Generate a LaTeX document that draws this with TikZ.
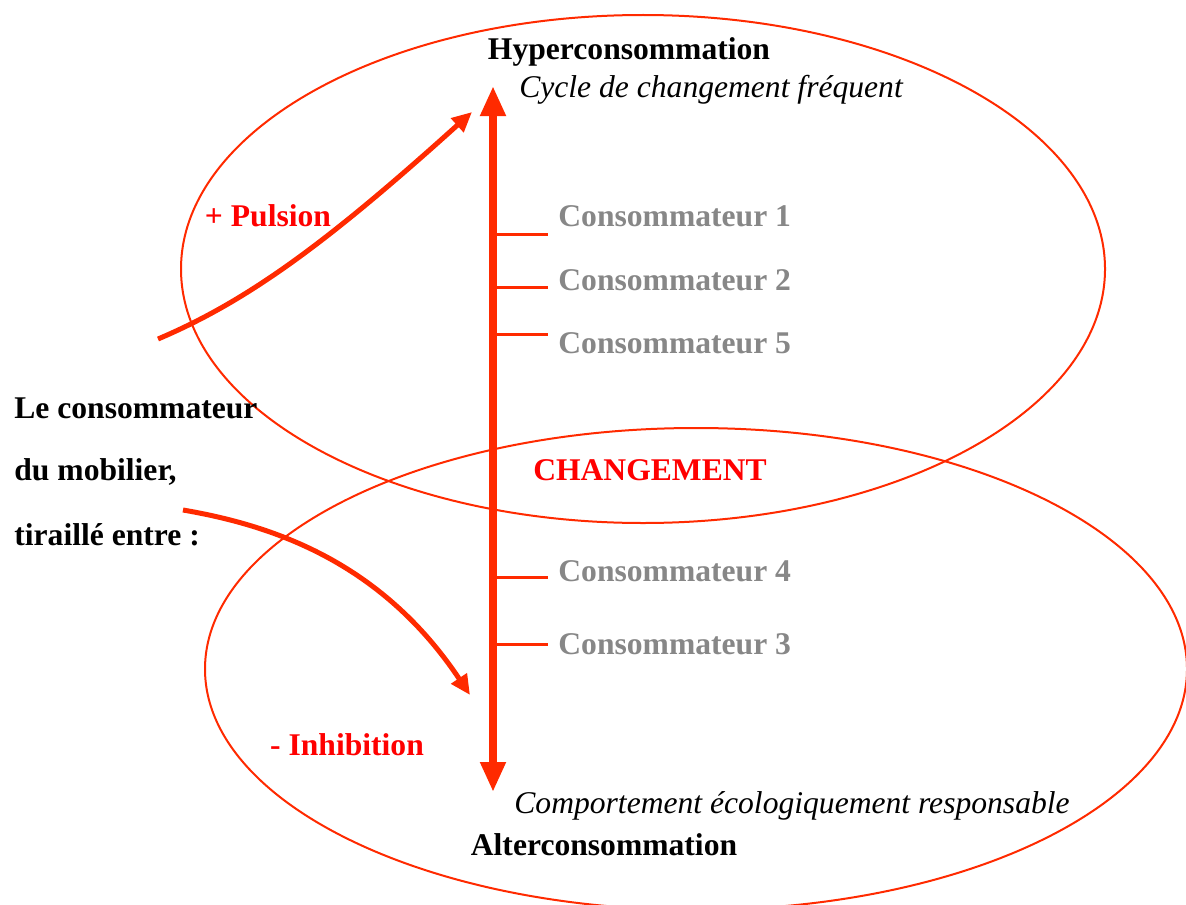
\documentclass[tikz,border=0pt]{standalone}
\usepackage{fontspec}
\setmainfont{Liberation Serif}
\usepackage{tikz}
\usetikzlibrary{arrows.meta}
\definecolor{arrowred}{HTML}{FF2A00}
\definecolor{labelred}{HTML}{FF0000}
\definecolor{consgray}{HTML}{878787}
\tikzset{
every picture/.style={line join=round},
zone line/.style={draw=arrowred, line width=1pt},
axis arrow/.style={
  draw=arrowred,
  line width=4pt,
  {Triangle[length=15pt,width=12pt]}-{Triangle[length=15pt,width=12pt]}
},
force arrow/.style={
  draw=arrowred,
  line width=2.5pt,
  -{Triangle[length=10pt,width=9pt]}
},
tick line/.style={draw=arrowred, line width=1.5pt},
big text/.style={font=\fontsize{15.8pt}{19pt}\selectfont\bfseries, inner sep=0pt},
pole label/.style={big text, text=black},
pole sub/.style={font=\fontsize{15.8pt}{19pt}\selectfont\itshape, inner sep=0pt},
force label/.style={big text, text=labelred},
cons label/.style={big text, text=consgray, anchor=west},
left label/.style={big text, text=black, anchor=west}
}
\begin{document}
\begin{tikzpicture}[x=0.5pt,y=0.5pt]
\useasboundingbox (0,0) rectangle (1186,-904);
% the two zones
\draw[zone line] (643,-269) ellipse [x radius=462, y radius=254];
\draw[zone line] (696,-669) ellipse [x radius=491, y radius=241];
% poles
\node[pole label] (hyper) at (629,-52) {Hyperconsommation};
\node[pole sub] (hypersub) at (711,-90) {Cycle de changement fréquent};
\node[pole sub] (altersub) at (792,-806) {Comportement écologiquement responsable};
\node[pole label] (alter) at (604,-845) {Alterconsommation};
% axis
\coordinate (axtop) at (493,-86);
\coordinate (axbot) at (493,-792);
\draw[axis arrow] (axbot) -- (axtop);
\node[force label] (chg) at (650,-470) {CHANGEMENT};
\foreach \n/\ty/\ly in {1/234/216,2/287/280,5/334/343,4/577/571,3/644/644} {
\coordinate (tick\n) at (493,-\ty);
\draw[tick line] (tick\n) -- ++(55,0);
\node[cons label] (cons\n) at (558,-\ly) {Consommateur \n};
}
% the consumer
\node[left label] (consa) at (14,-408) {Le consommateur};
\node[left label] (consb) at (14,-472) {du mobilier,};
\node[left label] (consc) at (14,-535) {tiraillé entre :};
% forces
\node[force label] (pulsion) at (268,-216) {+ Pulsion};
\node[force label] (inhib) at (347,-745) {- Inhibition};
\coordinate (pulsstart) at (158,-339);
\coordinate (pulsend) at (472,-112);
\draw[force arrow] (pulsstart) .. controls (250,-300) and (330,-240) .. (pulsend);
\coordinate (inhibstart) at (183,-510);
\coordinate (inhibend) at (470,-695);
\draw[force arrow] (inhibstart) .. controls (270,-525) and (380,-560) .. (inhibend);
\end{tikzpicture}
\end{document}
